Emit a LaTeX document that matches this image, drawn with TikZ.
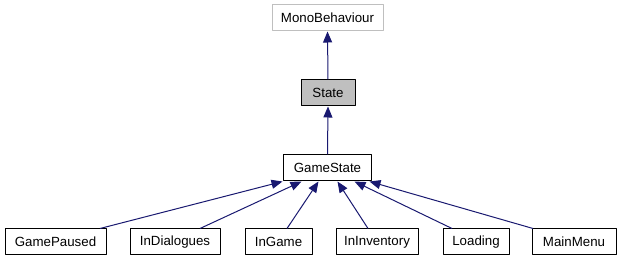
\documentclass[tikz,border=0pt]{standalone}
\usepackage{fontspec}
\setmainfont{Liberation Sans}
\usetikzlibrary{arrows.meta}
\definecolor{edgeblue}{RGB}{25,25,112}
\begin{document}
\begin{tikzpicture}[x=1pt, y=1pt, line join=round,
		font=\fontsize{13.3}{16}\selectfont,
		cls/.style={draw=black, line width=1pt, inner sep=0pt, minimum height=26pt},
		edge/.style={draw=edgeblue, line width=1pt, -{Triangle[length=11pt,width=9pt]}}]
	\useasboundingbox (0,0) rectangle (621,261);
	% base classes
	\node [cls, draw=black!25, minimum width=111pt] (mb) at (327.5,243) {MonoBehaviour};
	\node [cls, fill=black!25, minimum width=54pt] (st) at (328,168) {State};
	\node [cls, minimum width=88pt] (gs) at (327.5,93) {GameState};
	% derived states
	\node [cls, minimum width=101pt] (gp) at (55.5,19) {GamePaused};
	\node [cls, minimum width=90pt] (id) at (175,19) {InDialogues};
	\node [cls, minimum width=67pt] (ig) at (278.5,19) {InGame};
	\node [cls, minimum width=82pt] (ii) at (377,19) {InInventory};
	\node [cls, minimum width=66pt] (ld) at (476,19) {Loading};
	\node [cls, minimum width=84pt] (mm) at (574,19) {MainMenu};
	% inheritance
	\draw [edge] (st.north) -- (mb.south);
	\draw [edge] (gs.north) -- (st.south);
	\draw [edge] ([xshift=44.5pt]gp.north) -- ([xshift=-45pt]gs.south);
	\draw [edge] ([xshift=25pt]id.north) -- ([xshift=-26pt]gs.south);
	\draw [edge] ([xshift=8.5pt]ig.north) -- ([xshift=-9pt]gs.south);
	\draw [edge] ([xshift=-9pt]ii.north) -- ([xshift=10pt]gs.south);
	\draw [edge] ([xshift=-24pt]ld.north) -- ([xshift=27pt]gs.south);
	\draw [edge] ([xshift=-41pt]mm.north) -- ([xshift=42pt]gs.south);
\end{tikzpicture}
\end{document}
